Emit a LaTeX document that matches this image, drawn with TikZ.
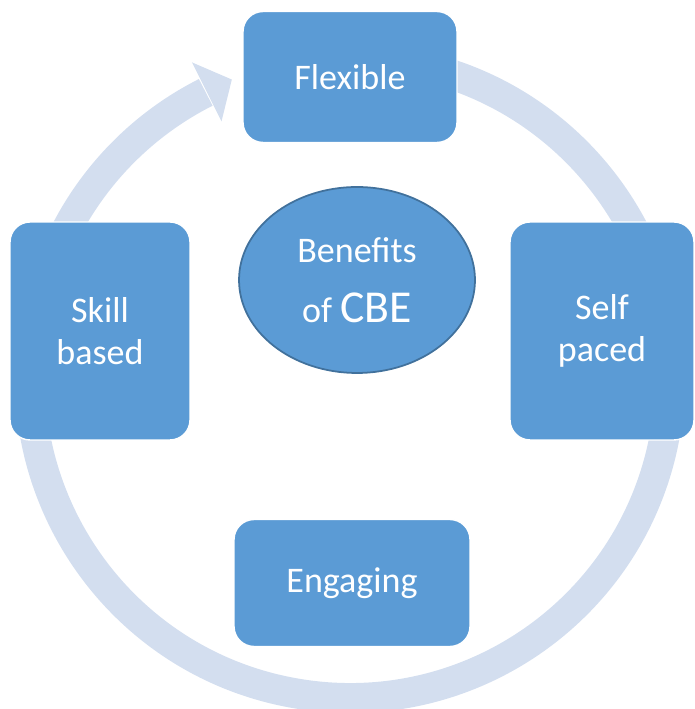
\documentclass[tikz,border=0pt]{standalone}
\usepackage{fontspec}
\setmainfont{Carlito}
\usepackage{tikz}
\usetikzlibrary{shapes.geometric}

\definecolor{boxblue}{HTML}{5B9BD5}
\definecolor{ringblue}{HTML}{D3DEEF}
\definecolor{edgeblue}{HTML}{41719C}

\begin{document}
\begin{tikzpicture}[x=0.02cm,y=0.02cm]
\tikzset{benefit/.style = {shape=rectangle,rounded corners=0.4cm,fill=boxblue,draw=white,line width=0.8pt,
  text=white,align=center,font=\fontsize{20.5}{23}\selectfont,inner sep=0pt}}
\tikzset{hub/.style = {shape=ellipse,fill=boxblue,draw=edgeblue,line width=1pt,text=white,align=center,
  minimum width=4.72cm,minimum height=3.72cm,inner sep=0pt,font=\fontsize{20.5}{23}\selectfont}}
\tikzset{ring/.style = {draw=ringblue,line width=0.6cm}}
\useasboundingbox (0,0) rectangle (694,709);
\coordinate (c) at (350,331);
% ring
\draw[ring] (c) ++(80:320) arc[start angle=80,end angle=-243.2,radius=320];
\fill[ringblue,shift={(c)}] (116.6:353) -- (111.6:321) -- (116.6:287) -- cycle;
% boxes
\node[benefit,minimum width=4.28cm,minimum height=2.62cm] (flex) at (350,632) {Flexible};
\node[benefit,minimum width=3.6cm,minimum height=4.36cm] (skill) at (100,378) {Skill\\[1pt]based};
\node[benefit,minimum width=3.68cm,minimum height=4.36cm] (self) at (602,378) {Self\\[1pt]paced};
\node[benefit,minimum width=4.72cm,minimum height=2.54cm] (eng) at (352,126) {Engaging};
\node[hub] (cbe) at (357,429) {Benefits\\[11pt]of {\fontsize{26}{28}\selectfont CBE}};
\end{tikzpicture}
\end{document}
